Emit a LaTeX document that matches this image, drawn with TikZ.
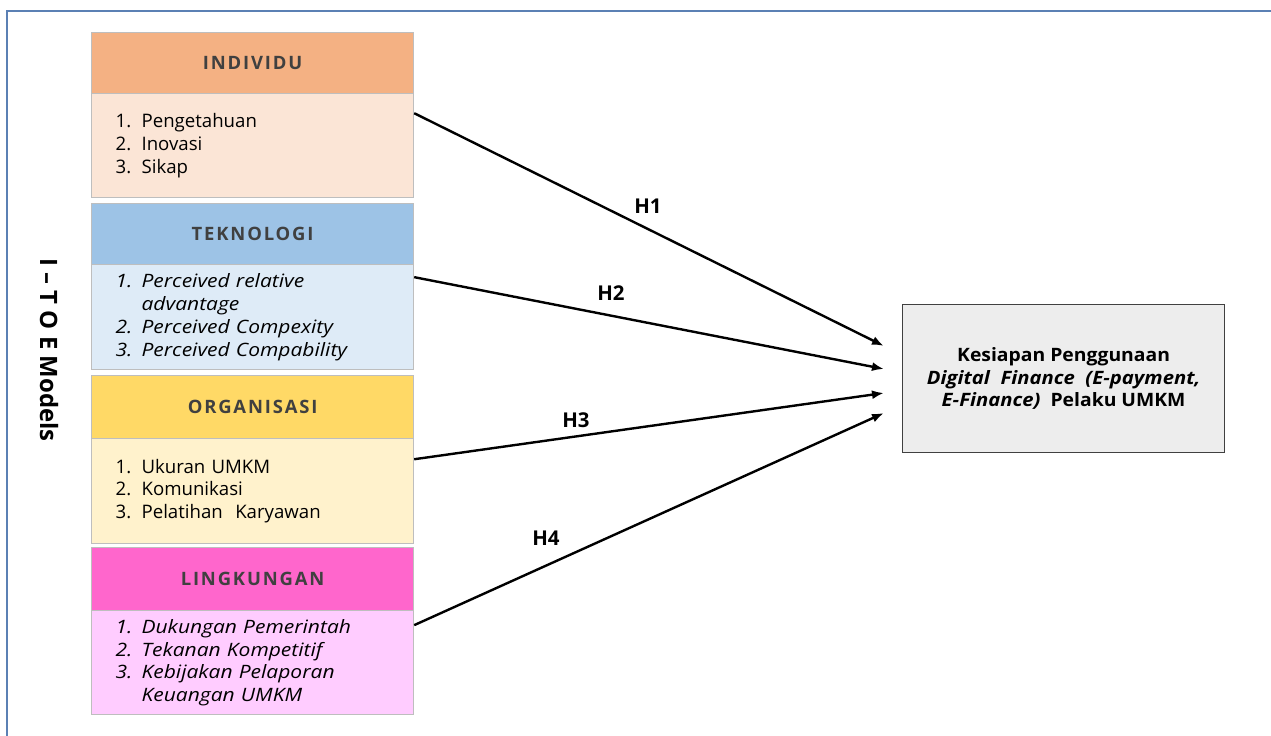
\documentclass[tikz,border=0pt]{standalone}
\usepackage{fontspec}
\setmainfont{Open Sans}
\usetikzlibrary{arrows.meta,calc}
\definecolor{frameblue}{RGB}{91,128,180}
\definecolor{boxline}{RGB}{190,190,190}
\definecolor{hdrtext}{RGB}{64,64,64}
\definecolor{indH}{RGB}{244,177,131}
\definecolor{indB}{RGB}{251,229,214}
\definecolor{tekH}{RGB}{157,195,230}
\definecolor{tekB}{RGB}{222,235,247}
\definecolor{orgH}{RGB}{255,217,102}
\definecolor{orgB}{RGB}{255,242,204}
\definecolor{linH}{RGB}{255,102,204}
\definecolor{linB}{RGB}{255,204,255}
\definecolor{outF}{RGB}{237,237,237}
\definecolor{outL}{RGB}{64,64,64}
\newcommand\itm[2]{\makebox[26bp][l]{#1}#2}
\newcommand\wideit{\itshape\addfontfeatures{FakeStretch=1.14}}
\begin{document}
\begin{tikzpicture}[x=1bp,y=-1bp,
  hdrbox/.style={draw=boxline, line width=1.2bp, anchor=north west, minimum width=322bp, inner sep=0pt,
     text=hdrtext, font=\fontsize{18.5}{21}\selectfont\bfseries\addfontfeatures{LetterSpace=10}},
  bodybox/.style={draw=boxline, line width=1.2bp, anchor=north west, minimum width=322bp, inner sep=0pt,
     text width=274bp, align=left, font=\fontsize{18.7}{23}\selectfont},
  arr/.style={line width=2.4bp, -{Latex[length=12bp,width=9bp]}},
  hlab/.style={font=\fontsize{20.5}{24}\selectfont\bfseries, inner sep=0pt}]
\useasboundingbox (0,0) rectangle (1271,736);
\fill[white] (0,0) rectangle (1271,736);
% frame
\draw[frameblue, line width=1.6bp] (7,736) -- (7,11) -- (1271,11);
% left title
\node[rotate=-90, font=\fontsize{24}{26}\selectfont\bfseries, inner sep=0pt] (title) at (49,350) {I – T O E Models};
% INDIVIDU
\node[hdrbox, fill=indH, minimum height=61bp] (indh) at (91,32) {INDIVIDU};
\node[bodybox, fill=indB, minimum height=104bp] (indb) at (91,93)
  {\itm{1.}{Pengetahuan}\\ \itm{2.}{Inovasi}\\ \itm{3.}{Sikap}};
% TEKNOLOGI
\node[hdrbox, fill=tekH, minimum height=61bp] (tekh) at (91,203) {TEKNOLOGI};
\node[bodybox, fill=tekB, minimum height=105bp, font=\fontsize{18.5}{23}\selectfont\wideit] (tekb) at (91,264)
  {\itm{1.}{Perceived relative}\\ \itm{}{advantage}\\ \itm{2.}{Perceived Compexity}\\ \itm{3.}{Perceived Compability}};
% ORGANISASI
\node[hdrbox, fill=orgH, minimum height=63bp] (orgh) at (91,375) {ORGANISASI};
\node[bodybox, fill=orgB, minimum height=105bp] (orgb) at (91,438)
  {\itm{1.}{Ukuran UMKM}\\ \itm{2.}{Komunikasi}\\ \itm{3.}{Pelatihan\ \ Karyawan}};
% LINGKUNGAN
\node[hdrbox, fill=linH, minimum height=63bp] (linh) at (91,547) {LINGKUNGAN};
\node[bodybox, fill=linB, minimum height=104bp, font=\fontsize{18.5}{22.7}\selectfont\wideit] (linb) at (91,610)
  {\itm{1.}{Dukungan Pemerintah}\\ \itm{2.}{Tekanan Kompetitif}\\ \itm{3.}{Kebijakan Pelaporan}\\ \itm{}{Keuangan UMKM}};
% output box
\node[draw=outL, fill=outF, line width=1.2bp, anchor=north west, minimum width=322bp, minimum height=148bp,
      inner sep=0pt, align=center, font=\fontsize{18.5}{22.5}\selectfont\bfseries\addfontfeatures{FakeStretch=1.05}] (out) at (902,304)
  {Kesiapan Penggunaan\\ {\itshape\addfontfeatures{FakeStretch=1.1}Digital\ \ Finance\ \ (E-payment,}\\ {\itshape\addfontfeatures{FakeStretch=1.1}E-Finance)}\ \ Pelaku UMKM};
% arrow ends
\coordinate (t1) at (884,346);
\coordinate (t2) at (884,369);
\coordinate (t3) at (884,393);
\coordinate (t4) at (884,413);
\draw[arr] ($(indb.north east)!0.192!(indb.south east)$) -- (t1);
\draw[arr] ($(tekb.north east)!0.124!(tekb.south east)$) -- (t2);
\draw[arr] ($(orgb.north east)!0.2!(orgb.south east)$) -- (t3);
\draw[arr] ($(linb.north east)!0.144!(linb.south east)$) -- (t4);
% labels
\node[hlab] (h1) at (648,206) {H1};
\node[hlab] (h2) at (611,293) {H2};
\node[hlab] (h3) at (576,420) {H3};
\node[hlab] (h4) at (546,538) {H4};
\end{tikzpicture}
\end{document}
